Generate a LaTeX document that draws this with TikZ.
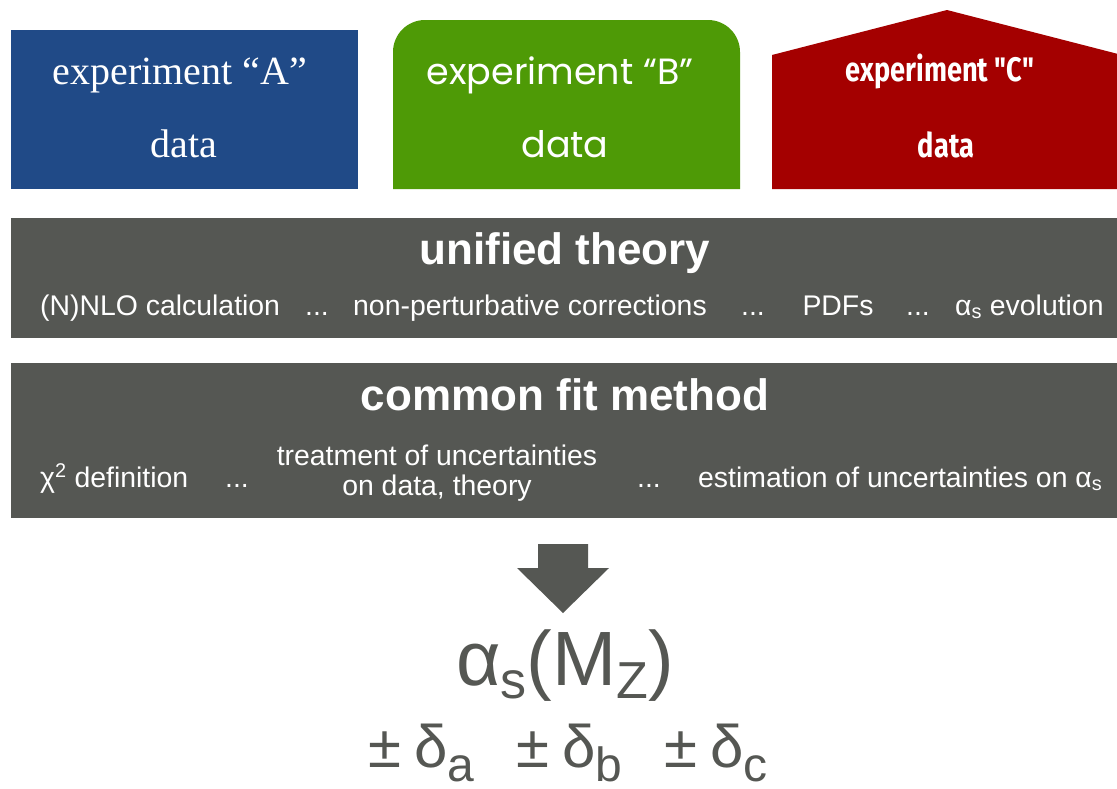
\documentclass[tikz,border=0pt]{standalone}
\usepackage{fontspec}
\usepackage{graphicx}
\setmainfont{Liberation Sans}
\newfontfamily\fA{Liberation Serif}
\newfontfamily\fB{Poppins}
\newfontfamily\fC{Fira Sans}
\definecolor{expA}{RGB}{32,74,135}
\definecolor{expB}{RGB}{78,154,6}
\definecolor{expC}{RGB}{164,0,0}
\definecolor{barc}{RGB}{85,87,83}
\newcommand\lowsub[3]{\raisebox{-#2pt}{\fontsize{#1}{#1}\selectfont #3}}
\tikzset{
  wtext/.style={text=white, inner sep=0pt, anchor=base},
  ttlA/.style={wtext, font=\fA\fontsize{40}{44}\selectfont},
  ttlB/.style={wtext, font=\fB\fontsize{36.5}{38}\selectfont},
  ttlC/.style={wtext, font=\fC\bfseries\fontsize{34}{36}\selectfont},
  bartitle/.style={wtext, font=\bfseries\fontsize{44}{46}\selectfont},
  barsub/.style={wtext, font=\fontsize{28.4}{30}\selectfont},
  formula/.style={text=barc, inner sep=0pt, anchor=base},
}
\begin{document}
\begin{tikzpicture}[x=1pt,y=-1pt]
\useasboundingbox (0,0) rectangle (1117,788);
\fill[white] (0,0) rectangle (1117,788);
% experiment boxes
\fill[expA] (11,30) rectangle (358,189);
\fill[expB] (393,189) [rounded corners=32pt] -- (393,20) -- (740,20) [sharp corners] -- (740,189) -- cycle;
\fill[expC] (772,189) -- (772,55) -- (947,10) -- (1122,55) -- (1122,189) -- cycle;
\node[ttlA] (a1) at (180,84) {experiment “A”};
\node[ttlA] (a2) at (184,157) {data};
\node[ttlB] (b1) at (560,84) {experiment “B”};
\node[ttlB] (b2) at (565,157) {data};
\node[ttlC] (c1) at (940,81) {\scalebox{0.8}[1]{experiment "C"}};
\node[ttlC] (c2) at (946,157) {\scalebox{0.8}[1]{data}};
% theory bar
\fill[barc] (11,218) rectangle (1120,338);
\node[bartitle] (th) at (565,264) {unified theory};
\node[barsub, anchor=base west] (t1) at (40,315) {(N)NLO calculation};
\node[barsub] (t2) at (317,315) {...};
\node[barsub] (t3) at (530,315) {non-perturbative corrections};
\node[barsub] (t4) at (753,315) {...};
\node[barsub] (t5) at (838,315) {PDFs};
\node[barsub] (t6) at (918,315) {...};
\node[barsub, anchor=base west] (t7) at (955,315) {α\textsubscript{s} evolution};
% fit bar
\fill[barc] (11,363) rectangle (1120,518);
\node[bartitle] (fit) at (565,410) {common fit method};
\node[barsub, anchor=base west] (f1) at (40,487) {χ\textsuperscript{2} definition};
\node[barsub] (f2) at (237,487) {...};
\node[barsub] (f3) at (437,465) {treatment of uncertainties};
\node[barsub] (f4) at (437,495) {on data, theory};
\node[barsub] (f5) at (649,487) {...};
\node[barsub, anchor=base west] (f6) at (698,487) {estimation of uncertainties on α\textsubscript{s}};
% arrow
\fill[barc] (538,544) -- (588,544) -- (588,568) -- (609,568) -- (563,613) -- (517,568) -- (538,568) -- cycle;
% result
\node[formula, font=\fontsize{77}{80}\selectfont] (res) at (565,685)
  {α\lowsub{52}{13}{s}(M\lowsub{52}{13}{Z})};
\node[formula, font=\fontsize{60}{62}\selectfont] (err) at (568,767)
  {±\hspace{13pt}δ\lowsub{48}{14}{a}\hspace{42pt}±\hspace{13pt}δ\lowsub{48}{14}{b}\hspace{42pt}±\hspace{13pt}δ\lowsub{48}{14}{c}};
\end{tikzpicture}
\end{document}
